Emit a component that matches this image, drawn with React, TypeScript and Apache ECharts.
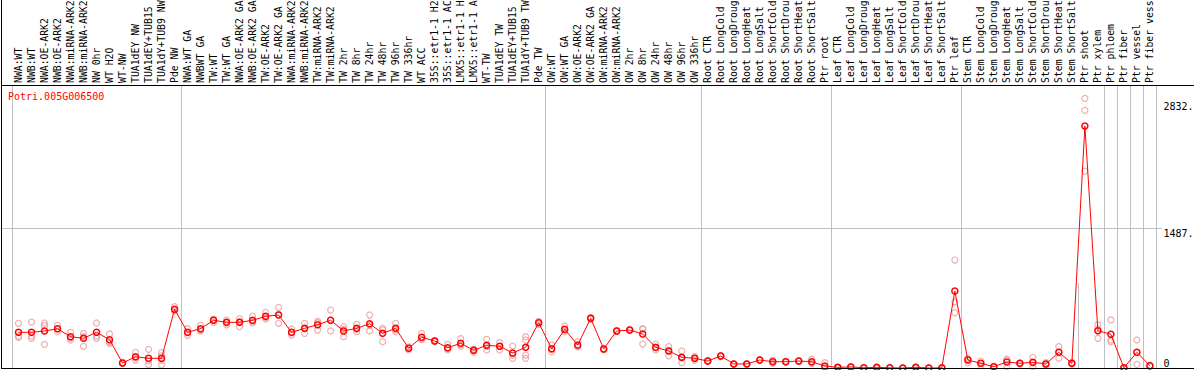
import React, { useEffect, useRef } from 'react';
import * as echarts from 'echarts';

const geneId = 'Potri.005G006500';

const categories: string[] = [
  'NWA:WT', 'NWB:WT', 'NWA:OE-ARK2', 'NWB:OE-ARK2', 'NWA:miRNA-ARK2', 'NWB:miRNA-ARK2', 'NW 0hr', 'WT H2O', 'WT-NW',
  'TUA1dEY NW', 'TUA1dEY+TUB15 NW', 'TUA1dY+TUB9 NW', 'Pde NW',
  'NWA:WT GA', 'NWBWT GA', 'TW:WT', 'TW:WT GA', 'NWA:OE-ARK2 GA', 'NWB:OE-ARK2 GA', 'TW:OE-ARK2', 'TW:OE-ARK2 GA',
  'NWA:miRNA-ARK2 GA', 'NWB:miRNA-ARK2 GA', 'TW:miRNA-ARK2', 'TW:miRNA-ARK2 GA',
  'TW 2hr', 'TW 8hr', 'TW 24hr', 'TW 48hr', 'TW 96hr', 'TW 336hr', 'WT ACC',
  '35S::etr1-1 H2O', '35S::etr1-1 ACC', 'LMX5::etr1-1 H2O', 'LMX5::etr1-1 ACC', 'WT-TW',
  'TUA1dEY TW', 'TUA1dEY+TUB15 TW', 'TUA1dY+TUB9 TW', 'Pde TW',
  'OW:WT', 'OW:WT GA', 'OW:OE-ARK2', 'OW:OE-ARK2 GA', 'OW:miRNA-ARK2', 'OW:miRNA-ARK2 GA',
  'OW 2hr', 'OW 8hr', 'OW 24hr', 'OW 48hr', 'OW 96hr', 'OW 336hr',
  'Root CTR', 'Root LongCold', 'Root LongDrought', 'Root LongHeat', 'Root LongSalt',
  'Root ShortCold', 'Root ShortDrought', 'Root ShortHeat', 'Root ShortSalt', 'Ptr root',
  'Leaf CTR', 'Leaf LongCold', 'Leaf LongDrought', 'Leaf LongHeat', 'Leaf LongSalt',
  'Leaf ShortCold', 'Leaf ShortDrought', 'Leaf ShortHeat', 'Leaf ShortSalt', 'Ptr leaf',
  'Stem CTR', 'Stem LongCold', 'Stem LongDrought', 'Stem LongHeat', 'Stem LongSalt',
  'Stem ShortCold', 'Stem ShortDrought', 'Stem ShortHeat', 'Stem ShortSalt',
  'Ptr shoot', 'Ptr xylem', 'Ptr phloem', 'Ptr fiber', 'Ptr vessel', 'Ptr fiber vessel',
];

const means: number[] = [
  380, 380, 394, 418, 333, 316, 380, 301, 53, 120,
  103, 103, 625, 380, 418, 508, 486, 486, 508, 550,
  564, 380, 422, 461, 508, 394, 422, 471, 369, 422,
  210, 327, 287, 216, 263, 188, 242, 231, 160, 220,
  482, 205, 412, 245, 529, 202, 394, 404, 362, 220,
  181, 114, 103, 74, 128, 43, 43, 85, 67, 67,
  74, 67, 21, 7, 11, 3, 7, 2, 0, 7,
  0, 2, 819, 85, 50, 14, 64, 50, 61, 43,
  167, 50, 2575, 397, 359, 3, 167, 24,
];

const replicates: number[][] = [
  [476, 340, 325], [489, 340, 316], [479, 450, 252], [454, 418, 386], [380, 320, 298],
  [369, 333, 231], [479, 340, 316], [362, 280, 263], [60, 50, 48], [167, 110, 85],
  [199, 75, 35], [163, 85, 32, 130], [652, 617, 606], [418, 374, 348], [454, 404, 396],
  [521, 515, 486], [510, 486, 460], [525, 494, 439], [553, 490, 482], [593, 535, 522],
  [646, 570, 476], [415, 375, 351], [476, 420, 369], [497, 482, 404], [617, 511, 394],
  [439, 410, 333], [465, 415, 386], [564, 455, 394], [422, 405, 280], [476, 405, 386],
  [226, 213, 192], [369, 307, 305], [295, 287, 280], [252, 205, 192], [312, 245, 232],
  [200, 192, 170], [305, 230, 192], [269, 232, 192], [234, 138, 103], [333, 298, 138, 103],
  [496, 488, 461], [245, 198, 173], [447, 403, 386], [280, 228, 227], [540, 529, 518],
  [210, 202, 195], [400, 394, 388], [410, 404, 398], [420, 412, 255], [255, 213, 192],
  [227, 188, 128], [181, 105, 56], [120, 103, 85], [80, 74, 68], [135, 128, 121],
  [45, 43, 40], [45, 43, 40], [88, 85, 82], [85, 67, 50], [72, 67, 62],
  [78, 74, 70], [93, 58, 50], [56, 7, 0], [10, 7, 4], [14, 11, 8],
  [5, 3, 1], [10, 7, 4], [4, 2, 0], [1, 0, 0], [10, 7, 4],
  [1, 0, 0], [4, 2, 0], [1149, 705, 588], [103, 95, 56], [74, 50, 26],
  [20, 14, 8], [93, 85, 14], [55, 50, 45], [114, 55, 14], [56, 43, 30],
  [227, 170, 104], [60, 50, 40], [2870, 2742, 2096], [458, 416, 316], [511, 298, 280],
  [5, 3, 0], [298, 165, 39], [30, 24, 18],
];

const yTickValues = [0, 1487, 2832];
const yTickLabels = ['0', '1487.', '2832.'];
const yGridValues = [1487];
const yAxisMax = 3012;

// category indices whose left boundary carries a separator line
const headerSeparators = [0, 13, 41, 53, 63, 73, 82, 84, 85, 86, 87];
const plotSeparators = [0, 13, 41, 53, 63, 73, 84, 85, 86, 87];

const FONT = '"DejaVu Sans Mono", "Liberation Mono", monospace';
const GRAY = '#c0c0c0';
const RED = '#ff0000';
const PINK = '#ec9a9a';

export default function App() {
  const ref = useRef<HTMLDivElement>(null);

  useEffect(() => {
    const el = ref.current as HTMLDivElement;
    const chart = echarts.init(el, null, { renderer: 'svg', width: 1194, height: 370 });
    const headerSet = new Set(headerSeparators);
    const plotSet = new Set(plotSeparators);
    const replicatePoints: [number, number][] = [];
    replicates.forEach((reps, i) => reps.forEach((v) => replicatePoints.push([i, v])));

    chart.setOption({
      animation: false,
      backgroundColor: '#ffffff',
      title: {
        text: geneId,
        left: 8,
        top: 91,
        padding: 0,
        textStyle: { color: RED, fontSize: 10, fontWeight: 'normal', fontFamily: FONT },
      },
      grid: { left: 12, right: 37.6, top: 85, bottom: 2, outerBoundsMode: 'none' },
      xAxis: {
        type: 'category',
        data: categories,
        position: 'top',
        boundaryGap: true,
        axisLine: { show: false },
        axisTick: {
          show: true,
          length: 85,
          interval: (index: number) => headerSet.has(index),
          lineStyle: { color: GRAY, width: 1 },
        },
        axisLabel: {
          interval: 0,
          rotate: 90,
          margin: 2,
          fontFamily: FONT,
          fontSize: 9.8,
          color: '#000000',
          width: 86,
          overflow: 'truncate',
          ellipsis: '',
        },
        splitLine: {
          show: true,
          interval: (index: number) => plotSet.has(index),
          lineStyle: { color: GRAY, width: 1 },
        },
      },
      yAxis: {
        type: 'value',
        position: 'right',
        min: 0,
        max: yAxisMax,
        axisLine: { show: false },
        axisTick: { show: false },
        splitLine: { show: false },
        axisLabel: {
          customValues: yTickValues,
          formatter: (v: number) => {
            const i = yTickValues.indexOf(v);
            return i >= 0 ? yTickLabels[i] : '';
          },
          margin: 7,
          fontFamily: FONT,
          fontSize: 10,
          color: '#000000',
          verticalAlign: 'top',
          verticalAlignMinLabel: 'bottom',
        },
      },
      series: [
        {
          type: 'scatter',
          data: replicatePoints,
          symbol: 'circle',
          symbolSize: 6,
          itemStyle: { color: 'rgba(0,0,0,0)', borderColor: PINK, borderWidth: 1.2 },
          z: 2,
          silent: true,
        },
        {
          type: 'line',
          data: means,
          symbol: 'circle',
          symbolSize: 6,
          showAllSymbol: true,
          lineStyle: { color: RED, width: 1 },
          itemStyle: { color: 'rgba(0,0,0,0)', borderColor: RED, borderWidth: 1.5 },
          z: 3,
          silent: true,
        },
      ],
    });

    const gridLines = yGridValues.map((v) => {
      const y = Math.round(chart.convertToPixel({ yAxisIndex: 0 }, v) as number) + 0.5;
      return {
        type: 'line',
        shape: { x1: 2, y1: y, x2: 1162, y2: y },
        style: { stroke: GRAY, lineWidth: 1 },
        z: 0,
        silent: true,
      };
    });

    chart.setOption({
      graphic: [
        ...gridLines,
        { type: 'line', shape: { x1: 1, y1: 85.5, x2: 1194, y2: 85.5 }, style: { stroke: '#000', lineWidth: 1 }, z: 10, silent: true },
        { type: 'line', shape: { x1: 1.5, y1: 0, x2: 1.5, y2: 369 }, style: { stroke: '#000', lineWidth: 1 }, z: 10, silent: true },
        { type: 'line', shape: { x1: 1, y1: 368.5, x2: 1194, y2: 368.5 }, style: { stroke: '#000', lineWidth: 1 }, z: 10, silent: true },
      ],
    });

    return () => chart.dispose();
  }, []);

  return <div ref={ref} style={{ position: 'fixed', left: 0, top: 0, width: 1194, height: 370 }} />;
}
